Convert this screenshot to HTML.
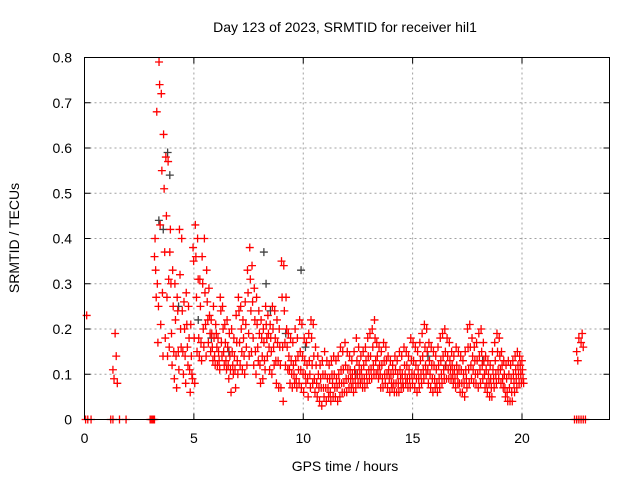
<!DOCTYPE html>
<html><head><meta charset="utf-8"><style>
body{margin:0;background:#fff}
svg{display:block;font-family:"Liberation Sans",sans-serif}
</style></head><body>
<svg id="chart" width="640" height="480" viewBox="0 0 640 480">
<text x="345" y="32" font-size="14" text-anchor="middle">Day 123 of 2023, SRMTID for receiver hil1</text>
<g id="grid"></g>
<g id="axes"></g>
<g id="marks"></g>
<rect x="84.5" y="57.5" width="525" height="362" fill="none" stroke="#000"/>
<text x="345" y="471" font-size="14" text-anchor="middle">GPS time / hours</text>
<text transform="translate(19,238) rotate(-90)" font-size="14" text-anchor="middle">SRMTID / TECUs</text>
</svg>
<script>
const xTicks=[0,5,10,15,20];
const yTicks=[0,0.1,0.2,0.3,0.4,0.5,0.6,0.7,0.8];
const yTickLabels=["0","0.1","0.2","0.3","0.4","0.5","0.6","0.7","0.8"];
const gridStart=3.2, gridEnd=20.1;
const denseValues=[
[0.36,0.40,0.33,0.27],[0.68,0.30,0.17,0.25],[0.79,0.74,0.43,0.21],[0.72,0.55,0.28,0.14],[0.63,0.51,0.37,0.18],
[0.58,0.45,0.27,0.14],[0.57,0.31,0.16,0.37],[0.42,0.30,0.19,0.12],[0.33,0.25,0.15,0.09],[0.30,0.22,0.14,0.07],
[0.27,0.24,0.15,0.11],[0.42,0.32,0.20,0.16],[0.40,0.24,0.15,0.10],[0.26,0.20,0.14,0.08],[0.28,0.21,0.16,0.12],
[0.25,0.18,0.11,0.06],[0.21,0.14,0.10,0.09],[0.38,0.35,0.18,0.08],[0.43,0.36,0.27,0.15],[0.40,0.31,0.18,0.14],
[0.31,0.25,0.17,0.13],[0.36,0.30,0.20,0.16],[0.40,0.28,0.21,0.14],[0.33,0.26,0.22,0.17],[0.29,0.23,0.19,0.15],
[0.22,0.19,0.16,0.13],[0.25,0.18,0.14,0.12],[0.21,0.19,0.16,0.12],[0.18,0.15,0.13,0.11],[0.27,0.24,0.17,0.14],
[0.25,0.20,0.15,0.12],[0.21,0.17,0.13,0.11],[0.22,0.16,0.12,0.09],[0.19,0.14,0.11,0.06],[0.20,0.15,0.12,0.10],
[0.18,0.14,0.11,0.07],[0.23,0.17,0.13,0.10],[0.27,0.24,0.17,0.12],[0.25,0.20,0.15,0.11],[0.22,0.18,0.14,0.10],
[0.26,0.21,0.16,0.12],[0.33,0.28,0.19,0.14],[0.38,0.31,0.24,0.15],[0.34,0.26,0.18,0.12],[0.29,0.22,0.15,0.10],
[0.27,0.21,0.16,0.13],[0.24,0.19,0.12,0.08],[0.22,0.18,0.14,0.09],[0.20,0.17,0.13,0.11],[0.25,0.21,0.18,0.14],
[0.23,0.19,0.16,0.11],[0.21,0.18,0.15,0.10],[0.25,0.20,0.16,0.12],[0.24,0.18,0.13,0.08],[0.22,0.17,0.13,0.07],
[0.20,0.16,0.12,0.07],[0.35,0.27,0.16,0.04],[0.34,0.24,0.17,0.12],[0.27,0.20,0.16,0.11],[0.19,0.14,0.11,0.08],
[0.18,0.13,0.10,0.07],[0.17,0.12,0.10,0.08],[0.20,0.13,0.09,0.07],[0.18,0.14,0.11,0.08],[0.22,0.15,0.11,0.07],
[0.21,0.14,0.10,0.06],[0.18,0.13,0.10,0.08],[0.17,0.12,0.09,0.05],[0.19,0.13,0.10,0.07],[0.22,0.18,0.12,0.08],
[0.21,0.14,0.09,0.06],[0.16,0.12,0.08,0.05],[0.14,0.10,0.07,0.04],[0.12,0.09,0.07,0.03],[0.13,0.10,0.07,0.05],
[0.15,0.10,0.07,0.04],[0.13,0.09,0.07,0.05],[0.12,0.09,0.06,0.04],[0.13,0.10,0.08,0.05],[0.14,0.10,0.07,0.05],
[0.13,0.09,0.07,0.04],[0.14,0.10,0.08,0.05],[0.16,0.11,0.08,0.06],[0.15,0.11,0.08,0.06],[0.17,0.12,0.09,0.06],
[0.15,0.11,0.09,0.07],[0.14,0.11,0.09,0.07],[0.13,0.10,0.08,0.06],[0.15,0.11,0.09,0.07],[0.18,0.13,0.10,0.08],
[0.16,0.12,0.10,0.08],[0.14,0.11,0.09,0.07],[0.15,0.12,0.09,0.07],[0.16,0.13,0.10,0.08],[0.18,0.14,0.11,0.09],
[0.19,0.14,0.11,0.09],[0.20,0.16,0.12,0.10],[0.22,0.18,0.13,0.10],[0.17,0.14,0.11,0.09],[0.16,0.12,0.10,0.07],
[0.15,0.12,0.09,0.07],[0.17,0.13,0.10,0.08],[0.16,0.13,0.10,0.07],[0.14,0.11,0.09,0.06],[0.13,0.10,0.08,0.07],
[0.12,0.10,0.08,0.06],[0.14,0.11,0.08,0.06],[0.13,0.10,0.08,0.06],[0.15,0.11,0.09,0.07],[0.14,0.10,0.08,0.07],
[0.16,0.12,0.10,0.08],[0.15,0.12,0.09,0.07],[0.14,0.11,0.09,0.07],[0.18,0.13,0.10,0.08],[0.17,0.13,0.10,0.07],
[0.16,0.12,0.09,0.06],[0.15,0.11,0.09,0.07],[0.17,0.13,0.10,0.08],[0.19,0.14,0.11,0.09],[0.21,0.16,0.12,0.10],
[0.20,0.15,0.11,0.08],[0.17,0.13,0.10,0.07],[0.16,0.12,0.09,0.06],[0.15,0.12,0.09,0.07],[0.14,0.11,0.08,0.06],
[0.16,0.12,0.09,0.07],[0.18,0.13,0.10,0.08],[0.19,0.14,0.11,0.09],[0.20,0.15,0.12,0.09],[0.18,0.14,0.11,0.09],
[0.17,0.13,0.11,0.09],[0.15,0.12,0.10,0.08],[0.14,0.11,0.09,0.07],[0.16,0.12,0.10,0.08],[0.15,0.11,0.08,0.06],
[0.14,0.11,0.08,0.06],[0.13,0.10,0.08,0.05],[0.15,0.11,0.09,0.07],[0.20,0.16,0.11,0.08],[0.21,0.16,0.12,0.09],
[0.18,0.14,0.11,0.08],[0.16,0.13,0.10,0.08],[0.17,0.13,0.10,0.07],[0.19,0.14,0.11,0.08],[0.20,0.15,0.12,0.09],
[0.17,0.13,0.10,0.07],[0.14,0.11,0.08,0.06],[0.13,0.10,0.08,0.05],[0.12,0.09,0.07,0.05],[0.15,0.11,0.09,0.07],
[0.17,0.13,0.10,0.08],[0.19,0.15,0.11,0.09],[0.18,0.14,0.11,0.08],[0.15,0.12,0.09,0.07],[0.13,0.10,0.07,0.05],
[0.12,0.09,0.06,0.04],[0.13,0.10,0.07,0.04],[0.12,0.09,0.06,0.04],[0.13,0.10,0.08,0.06],[0.14,0.11,0.09,0.07],
[0.15,0.12,0.10,0.08],[0.14,0.12,0.10,0.08],[0.13,0.11,0.09,0.08]
];
const sparseTimes=[0.1,1.3,1.35,1.4,1.45,1.5,22.5,22.55,22.6,22.7,22.75,22.8];
const sparseValues=[0.23,0.11,0.09,0.19,0.14,0.08,0.15,0.13,0.18,0.17,0.19,0.16];
const grayTimes=[3.4,3.6,3.8,3.9,4.3,5.2,5.8,6.6,8.2,8.3,8.5,9.2,9.9,10.1,12.4,15.7,16.5,18.2];
const grayValues=[0.44,0.42,0.59,0.54,0.25,0.22,0.18,0.15,0.37,0.30,0.24,0.19,0.33,0.16,0.10,0.14,0.12,0.13];
const zeroTimes=[0.05,0.15,0.3,1.2,1.3,1.6,1.9,3.0,3.05,3.1,3.15,3.2,22.4,22.5,22.6,22.7,22.8,22.9];

const X0=84.5,X1=609.5,Y0=419.5,Y1=57.5;
const xs=t=>X0+(t/24)*(X1-X0);
const ys=v=>Y0-(v/0.8)*(Y0-Y1);
const NS="http://www.w3.org/2000/svg";
const grid=document.getElementById('grid'),axes=document.getElementById('axes'),marks=document.getElementById('marks');
function mk(tag,parent,attrs){const e=document.createElementNS(NS,tag);for(const k in attrs)e.setAttribute(k,attrs[k]);parent.appendChild(e);return e;}
xTicks.forEach(t=>{
  const x=xs(t);
  if(t>0){const g=mk('line',grid,{x1:x,x2:x,y1:Y0,y2:Y1,stroke:'#a0a0a0','stroke-dasharray':'2,3'});
  
  }
  mk('line',axes,{x1:x,x2:x,y1:Y0,y2:Y0-6,stroke:'#000'});
  mk('line',axes,{x1:x,x2:x,y1:Y1,y2:Y1+6,stroke:'#000'});
  const l=mk('text',axes,{x:x,y:443,'font-size':14,'text-anchor':'middle'});l.textContent=t;
  
  
});
yTicks.forEach((v,i)=>{
  const y=ys(v);
  if(v>0&&v<0.8){const g=mk('line',grid,{x1:X0,x2:X1,y1:y,y2:y,stroke:'#a0a0a0','stroke-dasharray':'2,3'});
  
  }
  mk('line',axes,{x1:X0,x2:X0+6,y1:y,y2:y,stroke:'#000'});
  mk('line',axes,{x1:X1,x2:X1-6,y1:y,y2:y,stroke:'#000'});
  const l=mk('text',axes,{x:72,y:y+5,'font-size':14,'text-anchor':'end'});l.textContent=yTickLabels[i];
  
  
});
function plus(t,v,color,name){
  const x=xs(t),y=ys(v);
  const p=mk('path',marks,{d:`M${x-4} ${y}h8M${x} ${y-4}v8`,stroke:color,'stroke-width':1.3,fill:'none'});
  
  
}
const gridStep=(gridEnd-gridStart)/denseValues.length;
grayTimes.forEach((t,i)=>plus(t,grayValues[i],'#404040','gray-point'));
denseValues.forEach((row,i)=>{const t=gridStart+i*gridStep;row.forEach((v,j)=>plus(t+j*gridStep/4,v,'#ff0000','srmtid-point'));});
sparseTimes.forEach((t,i)=>plus(t,sparseValues[i],'#ff0000','srmtid-point'));
zeroTimes.forEach(t=>plus(t,0,'#ff0000','zero-point'));
</script>
</body></html>
